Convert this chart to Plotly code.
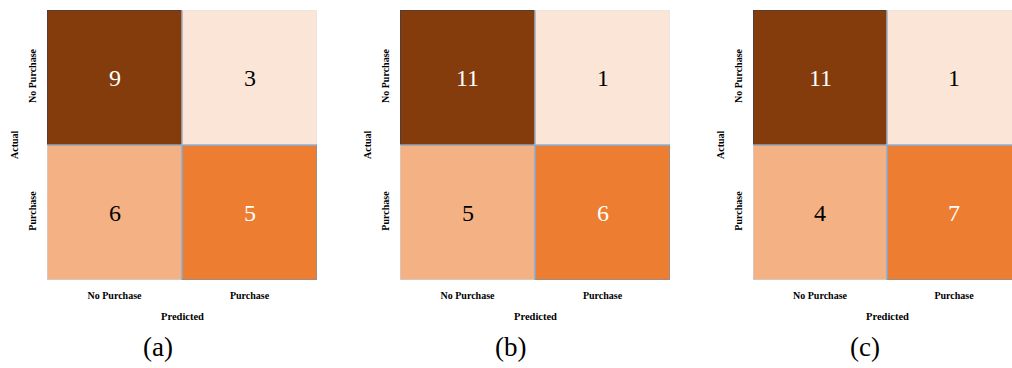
import plotly.graph_objects as go

# Class labels
classes = ["No Purchase", "Purchase"]

# Confusion matrices (rows = actual, cols = predicted)
cm_a = [[9, 3], [6, 5]]
cm_b = [[11, 1], [5, 6]]
cm_c = [[11, 1], [4, 7]]
panel_labels = ["(a)", "(b)", "(c)"]

# Cell fill colours by position
cell_colors = [["#843C0C", "#FBE5D6"], ["#F4B183", "#ED7D31"]]
text_colors = [["white", "black"], ["black", "white"]]
edge_colors = [["#2E3D5C", "#DCE6F2"], ["#C3D8EC", "#5F98D0"]]

W, H = 1012, 368
serif = "Liberation Serif"

# Pixel layout of each panel (left, right); right column of the last panel runs off the page
panels = [(47, 317, 317), (400, 670, 670), (753, 1021, 1012)]
plot_top, plot_bottom = 10, 280
caption_x = [158, 511, 865]

fig = go.Figure()
ydom = [(H - plot_bottom) / H, (H - plot_top) / H]

color_index = [[0, 1], [2, 3]]
scale = [[0.0, cell_colors[0][0]], [0.25, cell_colors[0][0]],
         [0.25, cell_colors[0][1]], [0.5, cell_colors[0][1]],
         [0.5, cell_colors[1][0]], [0.75, cell_colors[1][0]],
         [0.75, cell_colors[1][1]], [1.0, cell_colors[1][1]]]

annotations = []
shapes = []
for i, (cm, lab) in enumerate(zip([cm_a, cm_b, cm_c], panel_labels)):
    left, full_right, vis_right = panels[i]
    n = i + 1
    xa = "x" if n == 1 else f"x{n}"
    ya = "y" if n == 1 else f"y{n}"
    cell_w = (full_right - left) / 2
    x_hi = -0.5 + (vis_right - left) / cell_w

    fig.add_trace(go.Heatmap(
        z=color_index, x=[0, 1], y=[0, 1], colorscale=scale, zmin=0, zmax=3,
        showscale=False, hoverinfo="skip", xaxis=xa, yaxis=ya,
    ))

    axis_common = dict(showgrid=False, zeroline=False, showline=False, ticks="outside",
                       ticklen=6, tickcolor="rgba(0,0,0,0)",
                       tickfont=dict(family=serif, size=10, color="black", weight="bold"))
    fig.update_layout(**{
        ("xaxis" if n == 1 else f"xaxis{n}"): dict(
            domain=[left / W, vis_right / W], range=[-0.5, x_hi], anchor=ya,
            tickvals=[0, 1], ticktext=classes, tickangle=0, **axis_common),
        ("yaxis" if n == 1 else f"yaxis{n}"): dict(
            domain=ydom, range=[1.5, -0.5], anchor=xa,
            tickvals=[0, 1], ticktext=classes, tickangle=-90, **axis_common),
    })

    for r in range(2):
        for c in range(2):
            shapes.append(dict(type="rect", xref=xa, yref=ya,
                               x0=c - 0.5, x1=c + 0.5, y0=r - 0.5, y1=r + 0.5,
                               line=dict(color=edge_colors[r][c], width=1), layer="above"))
            annotations.append(dict(x=c, y=r, xref=xa, yref=ya, text=str(cm[r][c]),
                                    showarrow=False, xanchor="center", yanchor="middle",
                                    font=dict(family=serif, size=24, color=text_colors[r][c])))

    divider = (left + cell_w) / W
    annotations.append(dict(x=(left - 33) / W, y=(H - (plot_top + plot_bottom) / 2) / H,
                            xref="paper", yref="paper", text="<b>Actual</b>", textangle=-90,
                            xanchor="center", yanchor="middle", showarrow=False,
                            font=dict(family=serif, size=10, color="black")))
    annotations.append(dict(x=divider, y=(H - 316) / H, xref="paper", yref="paper",
                            text="<b>Predicted</b>", showarrow=False,
                            xanchor="center", yanchor="middle",
                            font=dict(family=serif, size=10.5, color="black")))
    annotations.append(dict(x=caption_x[i] / W, y=(H - 347) / H, xref="paper", yref="paper",
                            text=lab, showarrow=False, xanchor="center", yanchor="middle",
                            font=dict(family=serif, size=27, color="black")))

fig.update_layout(width=W, height=H, margin=dict(l=0, r=0, t=0, b=0),
                  paper_bgcolor="white", plot_bgcolor="white",
                  annotations=annotations, shapes=shapes, showlegend=False)

fig.write_html("out.html")
